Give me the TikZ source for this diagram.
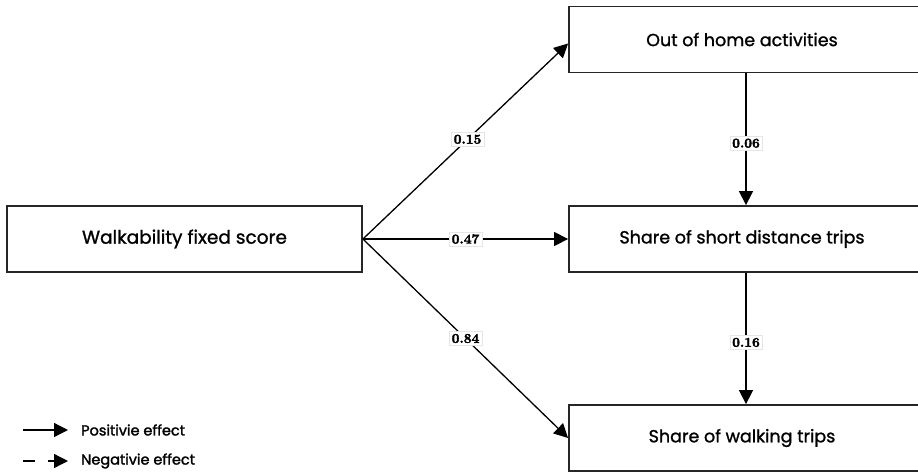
\documentclass[tikz,border=0pt]{standalone}
\usepackage{fontspec}
\setsansfont{Poppins}
\newfontfamily\boxfont[FakeBold=1.2]{Poppins}
\newfontfamily\keyfont[FakeBold=1.8]{Poppins}
\newfontfamily\coeffont[FakeBold=2.5]{lmroman10-bold.otf}
\usetikzlibrary{arrows.meta}

\begin{document}
\begin{tikzpicture}[
    x=1pt, y=-1pt,
    % --- Styles ---
    % Variables of the path model
    var node/.style={draw=black!85, line width=1.8pt, minimum height=66pt,
        font=\boxfont\fontsize{17.5}{20}\selectfont, inner sep=0pt},
    % Path coefficients sitting on the arrows
    coef node/.style={fill=white, draw=gray!20, line width=0.4pt, inner sep=2.5pt,
        font=\coeffont\fontsize{13.5}{15}\selectfont},
    link/.style={line width=1.3pt, -{Triangle[length=14pt,width=14pt]}},
    legend node/.style={font=\keyfont\fontsize{14.5}{16}\selectfont, anchor=west, inner sep=0pt}
]

%================CONFIGURATION================
% Geometry settings
% \xleft: centre of the score box, \xright: centre of the outcome column
\def\xleft{184.5}
\def\xright{746}
%=============================================

\useasboundingbox (0,0) rectangle (918,474);

% --- 1. Variables ---
\node[var node, minimum width=355pt] (score) at (\xleft, 239) {\fontsize{18.5}{20}\selectfont Walkability fixed score};
\node[var node, minimum width=354pt] (outhome) at (\xright, 39.5) {\hspace*{-8pt}Out of home activities};
\node[var node, minimum width=354pt] (shorttrips) at (\xright, 239) {\hspace*{-8pt}Share of short distance trips};
\node[var node, minimum width=354pt] (walktrips) at (\xright, 438) {\hspace*{-8pt}Share of walking trips};

% --- 2. Paths ---
\draw[link] (score.east) -- node[coef node, pos=0.51] {0.15} ([yshift=-4pt]outhome.west);
\draw[link] (score.east) -- node[coef node, pos=0.5] {0.47} (shorttrips.west);
\draw[link] (score.east) -- node[coef node, pos=0.5] {0.84} (walktrips.west);
\draw[link] (outhome.south) -- node[coef node, pos=0.53] {0.06} (shorttrips.north);
\draw[link] (shorttrips.south) -- node[coef node, pos=0.53] {0.16} (walktrips.north);

% --- 3. Legend ---
\coordinate (posstart) at (23, 430);
\coordinate (negstart) at (23, 461);
\node[legend node] (postext) at (81, 430) {Positivie effect};
\node[legend node] (negtext) at (81, 461) {Negativie effect};
\draw[link] (posstart) -- ([xshift=-13pt]postext.west);
\draw[link, dash pattern=on 12pt off 13pt on 40pt] (negstart) -- ([xshift=-13pt]negtext.west);

\end{tikzpicture}
\end{document}
